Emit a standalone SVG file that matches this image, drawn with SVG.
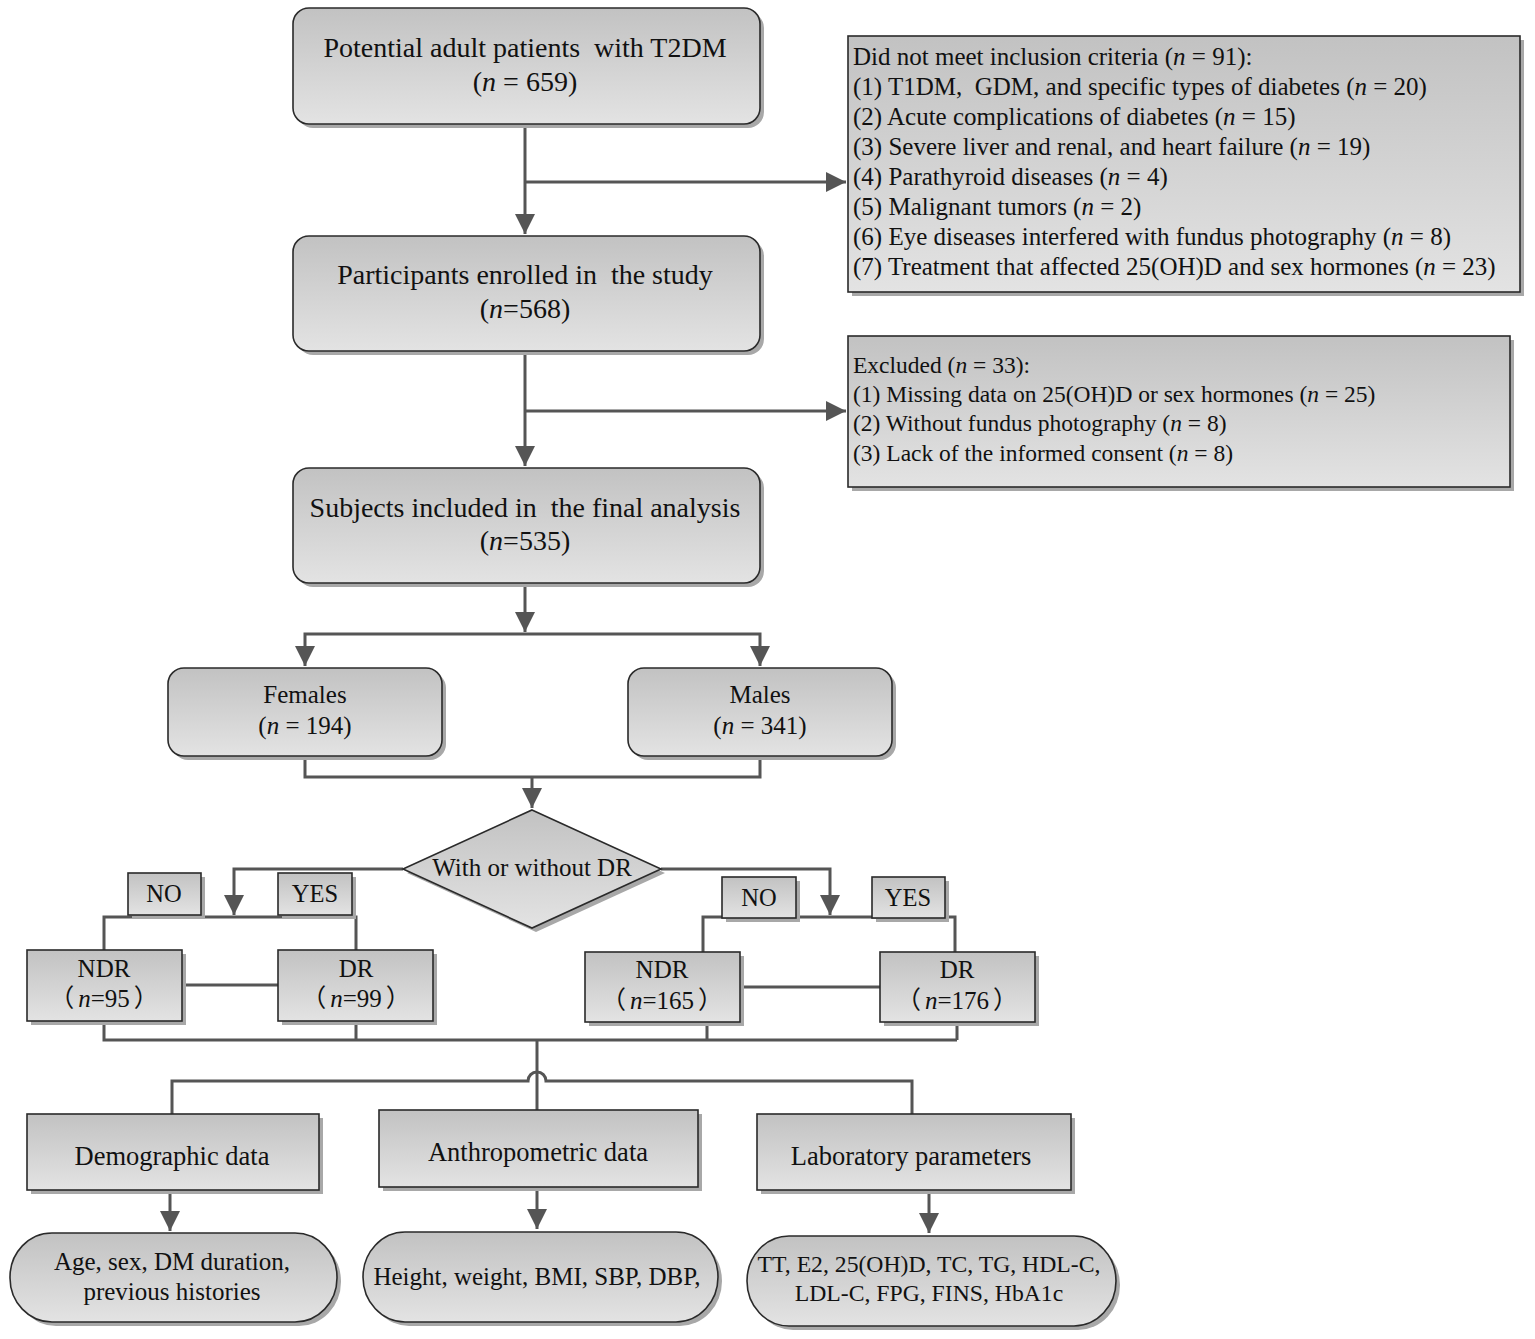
<svg xmlns="http://www.w3.org/2000/svg" width="1535" height="1339" viewBox="0 0 1535 1339">
<defs>
<linearGradient id="g" x1="0" y1="0" x2="0" y2="1">
<stop offset="0" stop-color="#c2c2c2"/>
<stop offset="1" stop-color="#e3e3e3"/>
</linearGradient>
<marker id="ah" markerUnits="userSpaceOnUse" markerWidth="22" markerHeight="22" refX="20" refY="10" orient="auto" viewBox="0 0 22 20">
<path d="M0,0 L20,10 L0,20 z" fill="#555"/>
</marker>
<style>
.box{fill:url(#g);stroke:#2a2a2a;stroke-width:1.6}
.sh{fill:#a8a8a8;stroke:none}
.ln{fill:none;stroke:#555;stroke-width:3}
.ar{fill:none;stroke:#555;stroke-width:3;marker-end:url(#ah)}
text{font-family:"Liberation Serif","Noto Sans CJK SC",serif;fill:#111;white-space:pre}
.c{text-anchor:middle}
.t28{font-size:28px}
.t26{font-size:26.5px}
.t25{font-size:25px}
.t24{font-size:24.5px}
.t237{font-size:23.7px}
.t235{font-size:23.5px}
.i{font-style:italic}
.fw{font-family:"Noto Sans CJK SC",sans-serif}
</style>
</defs>
<rect width="1535" height="1339" fill="#fff"/>

<g id="connectors">
<path class="ar" d="M525,124 V234"/>
<path class="ar" d="M525,182 H846"/>
<path class="ar" d="M525,351 V466"/>
<path class="ar" d="M525,411 H846"/>
<path class="ar" d="M525,583 V632"/>
<path class="ar" d="M525,634 H305 V666"/>
<path class="ar" d="M525,634 H760 V666"/>
<path class="ln" d="M305,756 V777 H760 V756"/>
<path class="ar" d="M532,777 V808"/>
<path class="ar" d="M403,869 H234 V915"/>
<path class="ln" d="M104,950 V917 H356 V950"/>
<path class="ln" d="M182,985 H278"/>
<path class="ar" d="M661,869 H830 V915"/>
<path class="ln" d="M703,952 V917 H955 V952"/>
<path class="ln" d="M740,987 H880"/>
<path class="ln" d="M104,1021 V1040 H957 M356,1021 V1040 M707,1022 V1040 M957,1022 V1040"/>
<path class="ln" d="M537,1040 V1110"/>
<path class="ln" d="M172,1114 V1081 H528 A9,9 0 0 1 546,1081 H912 V1114"/>
<path class="ar" d="M170,1190 V1231"/>
<path class="ar" d="M537,1187 V1229"/>
<path class="ar" d="M929,1190 V1233"/>
</g>

<g id="n_potential">
<rect class="sh" x="297" y="12" width="467" height="116" rx="16"/>
<rect class="box" x="293" y="8" width="467" height="116" rx="16"/>
<text class="c t28" x="525" y="57" xml:space="preserve">Potential adult patients  with T2DM</text>
<text class="c t28" x="525" y="91">(<tspan class="i">n</tspan> = 659)</text>
</g>

<g id="n_inclusion">
<rect class="sh" x="852" y="40" width="672" height="256"/>
<rect class="box" x="848" y="36" width="672" height="256"/>
<text class="t25" x="853" y="65">Did not meet inclusion criteria (<tspan class="i">n</tspan> = 91):</text>
<text class="t25" x="853" y="95" xml:space="preserve">(1) T1DM,  GDM, and specific types of diabetes (<tspan class="i">n</tspan> = 20)</text>
<text class="t25" x="853" y="125">(2) Acute complications of diabetes (<tspan class="i">n</tspan> = 15)</text>
<text class="t25" x="853" y="155">(3) Severe liver and renal, and heart failure (<tspan class="i">n</tspan> = 19)</text>
<text class="t25" x="853" y="185">(4) Parathyroid diseases (<tspan class="i">n</tspan> = 4)</text>
<text class="t25" x="853" y="215">(5) Malignant tumors (<tspan class="i">n</tspan> = 2)</text>
<text class="t25" x="853" y="245">(6) Eye diseases interfered with fundus photography (<tspan class="i">n</tspan> = 8)</text>
<text class="t25" x="853" y="275">(7) Treatment that affected 25(OH)D and sex hormones (<tspan class="i">n</tspan> = 23)</text>
</g>

<g id="n_enrolled">
<rect class="sh" x="297" y="240" width="467" height="115" rx="16"/>
<rect class="box" x="293" y="236" width="467" height="115" rx="16"/>
<text class="c t28" x="525" y="284" xml:space="preserve">Participants enrolled in  the study</text>
<text class="c t28" x="525" y="318">(<tspan class="i">n</tspan>=568)</text>
</g>

<g id="n_excluded">
<rect class="sh" x="852" y="340" width="662" height="151"/>
<rect class="box" x="848" y="336" width="662" height="151"/>
<text class="t235" x="853" y="373">Excluded (<tspan class="i">n</tspan> = 33):</text>
<text class="t235" x="853" y="402">(1) Missing data on 25(OH)D or sex hormones (<tspan class="i">n</tspan> = 25)</text>
<text class="t235" x="853" y="431">(2) Without fundus photography (<tspan class="i">n</tspan> = 8)</text>
<text class="t235" x="853" y="461">(3) Lack of the informed consent (<tspan class="i">n</tspan> = 8)</text>
</g>

<g id="n_subjects">
<rect class="sh" x="297" y="472" width="467" height="115" rx="16"/>
<rect class="box" x="293" y="468" width="467" height="115" rx="16"/>
<text class="c t28" x="525" y="517" xml:space="preserve">Subjects included in  the final analysis</text>
<text class="c t28" x="525" y="550">(<tspan class="i">n</tspan>=535)</text>
</g>

<g id="n_females">
<rect class="sh" x="172" y="672" width="274" height="88" rx="16"/>
<rect class="box" x="168" y="668" width="274" height="88" rx="16"/>
<text class="c t25" x="305" y="703">Females</text>
<text class="c t25" x="305" y="734">(<tspan class="i">n</tspan> = 194)</text>
</g>

<g id="n_males">
<rect class="sh" x="632" y="672" width="264" height="88" rx="16"/>
<rect class="box" x="628" y="668" width="264" height="88" rx="16"/>
<text class="c t25" x="760" y="703">Males</text>
<text class="c t25" x="760" y="734">(<tspan class="i">n</tspan> = 341)</text>
</g>

<g id="n_decision">
<polygon class="sh" points="536,814 665,873 536,932 407,873"/>
<polygon class="box" points="532,810 661,869 532,928 403,869"/>
<text class="c t25" x="532" y="876">With or without DR</text>
</g>

<g id="n_no_left">
<rect class="sh" x="132" y="877" width="73" height="42"/>
<rect class="box" x="128" y="873" width="73" height="42"/>
<text class="c t24" x="164" y="902">NO</text>
</g>
<g id="n_yes_left">
<rect class="sh" x="282" y="877" width="74" height="42"/>
<rect class="box" x="278" y="873" width="74" height="42"/>
<text class="c t24" x="315" y="902">YES</text>
</g>
<g id="n_no_right">
<rect class="sh" x="726" y="881" width="74" height="41"/>
<rect class="box" x="722" y="877" width="74" height="41"/>
<text class="c t24" x="759" y="906">NO</text>
</g>
<g id="n_yes_right">
<rect class="sh" x="876" y="881" width="73" height="41"/>
<rect class="box" x="872" y="877" width="73" height="41"/>
<text class="c t24" x="908" y="906">YES</text>
</g>

<g id="n_ndr_f">
<rect class="sh" x="31" y="954" width="155" height="71"/>
<rect class="box" x="27" y="950" width="155" height="71"/>
<text class="c t25" x="104" y="977">NDR</text>
<text class="c t25" x="104" y="1007"><tspan class="fw">（</tspan><tspan class="i" dx="4">n</tspan>=95<tspan class="fw" dx="4">）</tspan></text>
</g>
<g id="n_dr_f">
<rect class="sh" x="282" y="954" width="155" height="71"/>
<rect class="box" x="278" y="950" width="155" height="71"/>
<text class="c t25" x="356" y="977">DR</text>
<text class="c t25" x="356" y="1007"><tspan class="fw">（</tspan><tspan class="i" dx="4">n</tspan>=99<tspan class="fw" dx="4">）</tspan></text>
</g>
<g id="n_ndr_m">
<rect class="sh" x="589" y="956" width="155" height="70"/>
<rect class="box" x="585" y="952" width="155" height="70"/>
<text class="c t25" x="662" y="978">NDR</text>
<text class="c t25" x="662" y="1009"><tspan class="fw">（</tspan><tspan class="i" dx="4">n</tspan>=165<tspan class="fw" dx="4">）</tspan></text>
</g>
<g id="n_dr_m">
<rect class="sh" x="884" y="956" width="155" height="70"/>
<rect class="box" x="880" y="952" width="155" height="70"/>
<text class="c t25" x="957" y="978">DR</text>
<text class="c t25" x="957" y="1009"><tspan class="fw">（</tspan><tspan class="i" dx="4">n</tspan>=176<tspan class="fw" dx="4">）</tspan></text>
</g>

<g id="n_demo">
<rect class="sh" x="31" y="1118" width="292" height="76"/>
<rect class="box" x="27" y="1114" width="292" height="76"/>
<text class="c t26" x="172" y="1165">Demographic data</text>
</g>
<g id="n_anthro">
<rect class="sh" x="383" y="1114" width="319" height="77"/>
<rect class="box" x="379" y="1110" width="319" height="77"/>
<text class="c t26" x="538" y="1161">Anthropometric data</text>
</g>
<g id="n_lab">
<rect class="sh" x="761" y="1118" width="314" height="76"/>
<rect class="box" x="757" y="1114" width="314" height="76"/>
<text class="c t26" x="911" y="1165">Laboratory parameters</text>
</g>

<g id="n_demo_items">
<rect class="sh" x="14" y="1237" width="327" height="89" rx="42" ry="44"/>
<rect class="box" x="10" y="1233" width="327" height="89" rx="42" ry="44"/>
<text class="c t25" x="172" y="1270">Age, sex, DM duration,</text>
<text class="c t25" x="172" y="1300">previous histories</text>
</g>
<g id="n_anthro_items">
<rect class="sh" x="367" y="1236" width="355" height="90" rx="42" ry="45"/>
<rect class="box" x="363" y="1232" width="355" height="90" rx="42" ry="45"/>
<text class="c t25" x="537" y="1285">Height, weight, BMI, SBP, DBP,</text>
</g>
<g id="n_lab_items">
<rect class="sh" x="751" y="1240" width="369" height="90" rx="42" ry="45"/>
<rect class="box" x="747" y="1236" width="369" height="90" rx="42" ry="45"/>
<text class="c t237" x="929" y="1272">TT, E2, 25(OH)D, TC, TG, HDL-C,</text>
<text class="c t237" x="929" y="1301">LDL-C, FPG, FINS, HbA1c</text>
</g>
</svg>
